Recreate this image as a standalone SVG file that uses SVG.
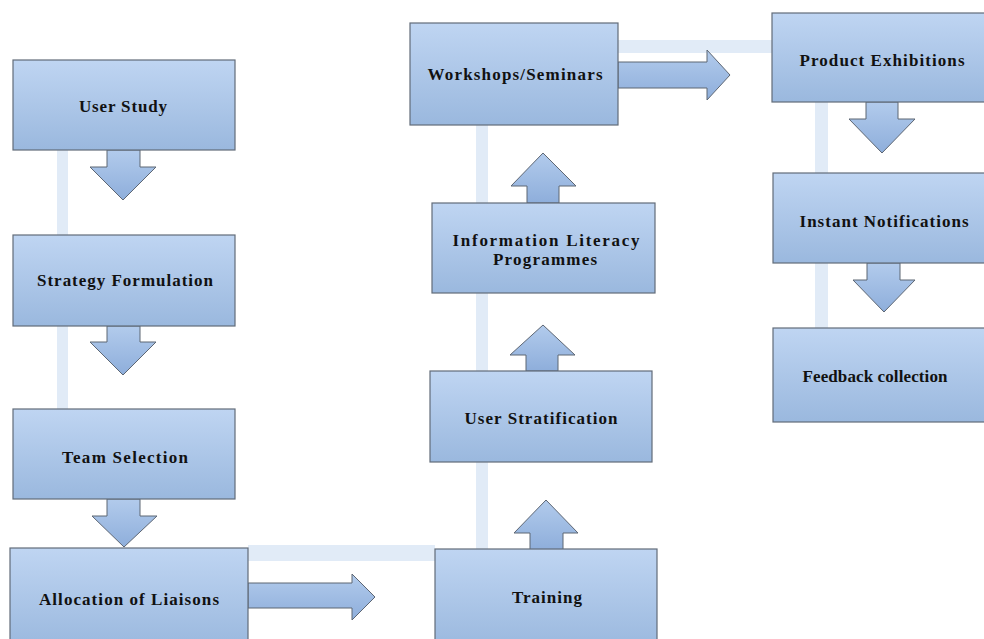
<svg xmlns="http://www.w3.org/2000/svg" width="984" height="639" viewBox="0 0 984 639">
<style>
.box{fill:url(#g);stroke:#626c79;stroke-width:1.2}
.arr{fill:url(#ga);stroke:#5d6673;stroke-width:1}
.faint{fill:#e1ebf7}
.lbl{font-family:"Liberation Serif","Times New Roman",serif;font-weight:bold;font-size:17px;fill:#111;text-anchor:middle}
</style>
<defs>
<linearGradient id="g" x1="0" y1="0" x2="0" y2="1">
<stop offset="0" stop-color="#bfd5f2"/>
<stop offset="1" stop-color="#9ab8de"/>
</linearGradient>
<linearGradient id="ga" x1="0" y1="0" x2="0" y2="1">
<stop offset="0" stop-color="#b2cbec"/>
<stop offset="1" stop-color="#8eaedb"/>
</linearGradient>
</defs>
<rect width="984" height="639" fill="#ffffff"/>
<g id="connectors">
<rect class="faint" x="57" y="150" width="11" height="260"/>
<rect class="faint" x="248" y="545" width="187" height="16"/>
<rect class="faint" x="476" y="125" width="12" height="425"/>
<rect class="faint" x="618" y="40" width="154" height="13"/>
<rect class="faint" x="815" y="102" width="13" height="227"/>
<path class="arr" d="M107,150 V167 H90 L123,200 L156,167 H140 V150 Z"/>
<path class="arr" d="M107,326 V342 H90 L123,375 L156,342 H140 V326 Z"/>
<path class="arr" d="M107,499 V516 H92 L124,547 L157,516 H140 V499 Z"/>
<path class="arr" d="M248,583 H352 V574 L375,597 L352,620 V608 H248 Z"/>
<path class="arr" d="M530,550 V533 H514 L546,500 L578,533 H563 V550 Z"/>
<path class="arr" d="M526,371 V355 H510 L543,325 L575,355 H558 V371 Z"/>
<path class="arr" d="M527,203 V186 H511 L543,153 L576,186 H559 V203 Z"/>
<path class="arr" d="M618,62 H707 V50 L730,75 L707,100 V88 H618 Z"/>
<path class="arr" d="M866,102 V119 H849 L882,153 L915,119 H898 V102 Z"/>
<path class="arr" d="M867,263 V280 H853 L884,312 L915,280 H900 V263 Z"/>
</g>
<g id="n1"><rect class="box" x="13" y="60" width="222" height="90"/><text class="lbl" x="123" y="112" textLength="88" lengthAdjust="spacing">User Study</text></g>
<g id="n2"><rect class="box" x="13" y="235" width="222" height="91"/><text class="lbl" x="125" y="286" textLength="176" lengthAdjust="spacing">Strategy Formulation</text></g>
<g id="n3"><rect class="box" x="13" y="409" width="222" height="90"/><text class="lbl" x="125" y="463" textLength="126" lengthAdjust="spacing">Team Selection</text></g>
<g id="n4"><rect class="box" x="10" y="548" width="238" height="100"/><text class="lbl" x="129" y="605" textLength="180" lengthAdjust="spacing">Allocation of Liaisons</text></g>
<g id="n5"><rect class="box" x="435" y="549" width="222" height="100"/><text class="lbl" x="547" y="603" textLength="70" lengthAdjust="spacing">Training</text></g>
<g id="n6"><rect class="box" x="430" y="371" width="222" height="91"/><text class="lbl" x="541" y="424" textLength="153" lengthAdjust="spacing">User Stratification</text></g>
<g id="n7"><rect class="box" x="432" y="203" width="223" height="90"/><text class="lbl" x="546" y="246" textLength="187" lengthAdjust="spacing">Information Literacy</text><text class="lbl" x="545" y="265" textLength="104" lengthAdjust="spacing">Programmes</text></g>
<g id="n8"><rect class="box" x="410" y="23" width="208" height="102"/><text class="lbl" x="515" y="80" textLength="175" lengthAdjust="spacing">Workshops/Seminars</text></g>
<g id="n9"><rect class="box" x="772" y="13" width="215" height="89"/><text class="lbl" x="882" y="66" textLength="165" lengthAdjust="spacing">Product Exhibitions</text></g>
<g id="n10"><rect class="box" x="773" y="173" width="215" height="90"/><text class="lbl" x="884" y="227" textLength="169" lengthAdjust="spacing">Instant Notifications</text></g>
<g id="n11"><rect class="box" x="773" y="328" width="215" height="94"/><text class="lbl" x="875" y="382" textLength="145" lengthAdjust="spacing">Feedback collection</text></g>
</svg>
